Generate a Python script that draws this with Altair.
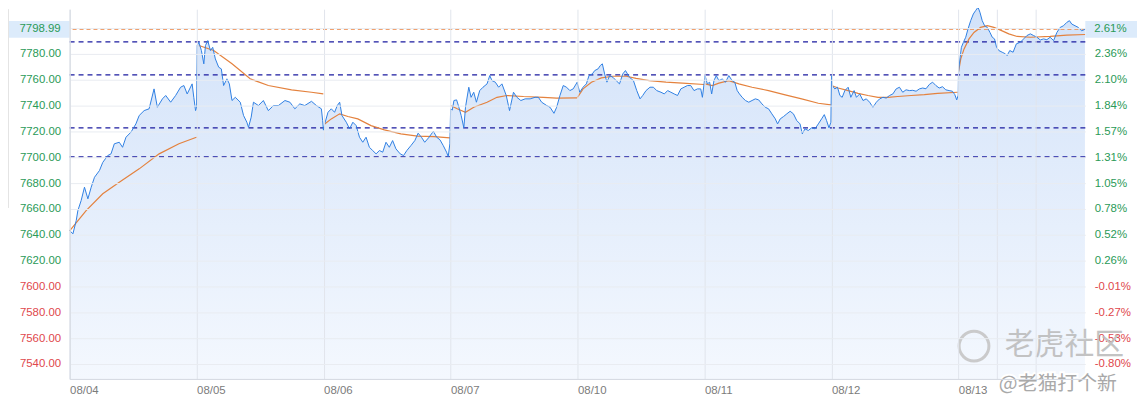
import altair as alt
import pandas as pd

DAYS = ["08/04", "08/05", "08/06", "08/07", "08/10", "08/11", "08/12", "08/13"]
PREV_CLOSE = 7600.45
LAST = 7798.99
LAST_PCT = "2.61%"
LEVELS = [7789.3, 7763.7, 7722.7, 7700.3]
Y_TICKS = [7540, 7560, 7580, 7600, 7620, 7640, 7660, 7680, 7700, 7720, 7740, 7760, 7780, 7800]
RIGHT_LABELS = ["-0.80%", "-0.53%", "-0.27%", "-0.01%", "0.26%", "0.52%", "0.78%", "1.05%",
                "1.31%", "1.57%", "1.84%", "2.10%", "2.36%", "2.63%"]
X_EXTRA = [7.303, 7.609]
Y_MIN, Y_MAX = 7528.4, 7814.6

# price: (fraction of the day, value)
P_0804 = [(0.000, 7643.3), (0.026, 7640.7), (0.052, 7651.0), (0.065, 7658.7), (0.091, 7666.5), (0.117, 7676.8),
          (0.144, 7667.8), (0.170, 7676.8), (0.196, 7684.5), (0.235, 7689.7), (0.261, 7696.0), (0.300, 7701.3),
          (0.326, 7702.6), (0.352, 7710.4), (0.391, 7711.6), (0.417, 7707.7), (0.444, 7715.5), (0.483, 7719.4),
          (0.522, 7725.8), (0.548, 7732.3), (0.587, 7736.1), (0.626, 7737.5), (0.665, 7752.9), (0.691, 7738.7),
          (0.731, 7745.2), (0.757, 7747.8), (0.796, 7742.6), (0.835, 7747.8), (0.874, 7754.2), (0.900, 7755.5),
          (0.926, 7749.0), (0.965, 7756.8), (0.978, 7746.4), (0.992, 7736.1), (0.999, 7738.0)]
P_0805 = [(0.005, 7786.5), (0.018, 7789.0), (0.038, 7782.6), (0.057, 7772.3), (0.070, 7786.5), (0.088, 7790.3),
          (0.109, 7782.6), (0.127, 7785.1), (0.148, 7776.1), (0.174, 7769.7), (0.195, 7768.4), (0.213, 7755.5),
          (0.239, 7760.7), (0.258, 7756.8), (0.279, 7743.9), (0.305, 7746.4), (0.344, 7742.6), (0.370, 7732.3),
          (0.396, 7727.1), (0.409, 7723.2), (0.430, 7731.0), (0.448, 7742.6), (0.487, 7740.0), (0.526, 7743.9),
          (0.565, 7736.1), (0.605, 7740.0), (0.644, 7740.0), (0.696, 7743.9), (0.735, 7742.6), (0.774, 7737.5),
          (0.813, 7741.3), (0.852, 7740.0), (0.905, 7743.3), (0.944, 7740.0), (0.983, 7737.5), (0.993, 7728.4),
          (0.999, 7721.0)]
P_0806 = [(0.009, 7725.8), (0.035, 7734.8), (0.061, 7737.5), (0.087, 7734.8), (0.108, 7740.0), (0.127, 7742.6),
          (0.145, 7732.3), (0.179, 7727.1), (0.205, 7722.0), (0.231, 7727.1), (0.257, 7724.5), (0.283, 7715.5),
          (0.309, 7711.6), (0.335, 7715.5), (0.361, 7707.7), (0.387, 7705.2), (0.414, 7702.6), (0.440, 7705.2),
          (0.466, 7703.9), (0.492, 7711.6), (0.518, 7707.7), (0.544, 7712.9), (0.570, 7706.5), (0.604, 7702.6),
          (0.630, 7701.3), (0.656, 7705.2), (0.688, 7709.0), (0.719, 7712.9), (0.745, 7718.6), (0.771, 7715.5),
          (0.797, 7711.6), (0.831, 7715.5), (0.865, 7720.1), (0.891, 7715.5), (0.917, 7713.5), (0.943, 7709.0),
          (0.969, 7703.9), (0.982, 7700.5), (0.995, 7710.4)]
P_0807 = [(0.001, 7737.5), (0.014, 7736.5), (0.027, 7743.9), (0.048, 7744.4), (0.066, 7738.7), (0.084, 7732.3),
          (0.105, 7722.8), (0.118, 7738.7), (0.144, 7754.2), (0.162, 7746.4), (0.183, 7750.3), (0.204, 7742.6),
          (0.230, 7751.6), (0.256, 7754.2), (0.288, 7756.8), (0.309, 7763.2), (0.327, 7759.3), (0.353, 7758.1),
          (0.379, 7754.2), (0.405, 7756.8), (0.439, 7747.8), (0.465, 7736.1), (0.496, 7750.3), (0.523, 7746.4),
          (0.554, 7743.9), (0.588, 7745.2), (0.627, 7745.2), (0.666, 7746.4), (0.692, 7746.4), (0.718, 7742.6),
          (0.758, 7740.0), (0.784, 7738.7), (0.815, 7734.0), (0.836, 7738.7), (0.862, 7747.8), (0.888, 7755.5),
          (0.914, 7754.2), (0.940, 7751.6), (0.966, 7752.9), (0.998, 7758.1)]
P_0810 = [(0.000, 7756.8), (0.018, 7750.3), (0.044, 7754.2), (0.070, 7756.8), (0.091, 7763.2), (0.117, 7764.5),
          (0.136, 7767.1), (0.162, 7768.4), (0.180, 7771.0), (0.196, 7772.3), (0.214, 7764.5), (0.232, 7758.1),
          (0.253, 7763.2), (0.279, 7761.9), (0.305, 7759.3), (0.331, 7756.8), (0.357, 7764.5), (0.378, 7767.1),
          (0.410, 7761.9), (0.441, 7759.3), (0.467, 7751.6), (0.493, 7745.2), (0.514, 7747.8), (0.540, 7751.6),
          (0.571, 7754.2), (0.598, 7754.2), (0.624, 7751.6), (0.658, 7750.3), (0.684, 7749.0), (0.710, 7751.6),
          (0.736, 7750.3), (0.762, 7749.0), (0.788, 7747.8), (0.814, 7752.9), (0.840, 7754.2), (0.866, 7755.5),
          (0.892, 7755.5), (0.918, 7751.6), (0.945, 7752.9), (0.971, 7752.9), (0.984, 7746.4), (0.997, 7756.8)]
P_0811 = [(0.005, 7763.2), (0.023, 7756.8), (0.041, 7758.1), (0.057, 7749.0), (0.075, 7759.3), (0.093, 7763.2),
          (0.114, 7759.3), (0.140, 7760.6), (0.166, 7758.1), (0.192, 7763.2), (0.218, 7759.3), (0.239, 7758.1),
          (0.258, 7751.6), (0.276, 7749.0), (0.297, 7746.4), (0.323, 7743.9), (0.349, 7742.6), (0.375, 7743.9),
          (0.401, 7745.2), (0.427, 7744.4), (0.453, 7741.3), (0.479, 7738.7), (0.505, 7737.5), (0.531, 7733.6),
          (0.558, 7729.7), (0.576, 7725.8), (0.597, 7729.7), (0.623, 7731.5), (0.649, 7733.6), (0.675, 7735.6),
          (0.701, 7733.6), (0.727, 7728.4), (0.753, 7725.8), (0.771, 7718.1), (0.792, 7722.0), (0.818, 7720.7),
          (0.845, 7722.8), (0.871, 7722.0), (0.897, 7725.8), (0.923, 7729.7), (0.944, 7733.0), (0.962, 7728.4),
          (0.981, 7722.8), (0.996, 7727.1)]
P_0812 = [(0.001, 7763.2), (0.007, 7755.5), (0.027, 7752.9), (0.048, 7754.2), (0.067, 7747.8), (0.085, 7746.4),
          (0.106, 7751.6), (0.132, 7754.2), (0.153, 7746.4), (0.179, 7751.6), (0.197, 7746.4), (0.223, 7749.0),
          (0.249, 7743.9), (0.275, 7745.2), (0.301, 7742.6), (0.327, 7738.7), (0.354, 7742.6), (0.380, 7745.2),
          (0.406, 7746.4), (0.432, 7745.8), (0.458, 7747.8), (0.484, 7749.0), (0.510, 7752.9), (0.536, 7754.2),
          (0.562, 7750.3), (0.588, 7752.2), (0.614, 7751.6), (0.641, 7751.8), (0.667, 7751.1), (0.693, 7752.9),
          (0.719, 7753.6), (0.745, 7753.0), (0.771, 7756.3), (0.797, 7758.1), (0.823, 7755.5), (0.849, 7753.6),
          (0.875, 7754.6), (0.901, 7752.2), (0.927, 7751.6), (0.953, 7751.1), (0.972, 7748.5), (0.987, 7744.4),
          (0.999, 7748.0)]
P_0813 = [(0.001, 7765.8), (0.014, 7777.4), (0.024, 7785.1), (0.040, 7789.0), (0.058, 7792.9), (0.076, 7799.3),
          (0.097, 7805.7), (0.118, 7810.9), (0.136, 7813.5), (0.155, 7816.1), (0.170, 7812.2), (0.188, 7805.7),
          (0.207, 7801.8), (0.228, 7800.5), (0.249, 7796.6), (0.267, 7792.9), (0.285, 7791.6), (0.301, 7785.1),
          (0.319, 7782.6), (0.345, 7781.3), (0.371, 7780.0), (0.384, 7778.7), (0.405, 7782.6), (0.431, 7781.3),
          (0.457, 7787.8), (0.488, 7789.0), (0.514, 7791.6), (0.540, 7794.2), (0.567, 7795.5), (0.593, 7794.2),
          (0.619, 7792.9), (0.645, 7790.8), (0.671, 7791.6), (0.697, 7791.0), (0.723, 7792.9), (0.750, 7790.3),
          (0.776, 7796.6), (0.802, 7800.5), (0.828, 7801.8), (0.854, 7804.4), (0.875, 7805.7), (0.893, 7803.1),
          (0.919, 7801.8), (0.945, 7800.5), (0.971, 7797.9), (0.997, 7799.0)]

# average price line, per day
A_0804 = [(0.000, 7643.0), (0.130, 7658.7), (0.261, 7671.7), (0.391, 7680.7), (0.548, 7691.0), (0.705, 7702.6),
          (0.861, 7710.4), (0.999, 7715.5)]
A_0805 = [(0.018, 7786.5), (0.135, 7782.6), (0.279, 7772.3), (0.422, 7760.7), (0.565, 7755.5), (0.748, 7752.2),
          (0.905, 7750.3), (0.998, 7749.0)]
A_0806 = [(0.009, 7725.8), (0.061, 7729.7), (0.127, 7733.6), (0.192, 7731.5), (0.270, 7729.7), (0.374, 7724.5),
          (0.479, 7721.2), (0.609, 7718.1), (0.740, 7716.3), (0.870, 7716.0), (0.995, 7715.0)]
A_0807 = [(0.001, 7740.0), (0.053, 7737.5), (0.118, 7734.8), (0.183, 7738.7), (0.288, 7742.6), (0.366, 7746.4),
          (0.444, 7747.8), (0.575, 7747.0), (0.731, 7746.4), (0.836, 7745.7), (0.998, 7746.0)]
A_0810 = [(0.000, 7746.4), (0.044, 7752.9), (0.110, 7758.1), (0.188, 7761.4), (0.279, 7762.7), (0.384, 7762.7),
          (0.462, 7761.1), (0.566, 7759.3), (0.697, 7758.1), (0.827, 7757.4), (0.997, 7756.3)]
A_0811 = [(0.005, 7756.8), (0.062, 7755.5), (0.114, 7757.4), (0.192, 7759.3), (0.271, 7756.8), (0.375, 7754.2),
          (0.505, 7751.6), (0.636, 7748.3), (0.766, 7745.2), (0.897, 7741.8), (0.996, 7740.6)]
A_0812 = [(0.001, 7755.5), (0.053, 7753.6), (0.132, 7751.6), (0.210, 7749.5), (0.288, 7747.8), (0.367, 7746.4),
          (0.445, 7746.4), (0.523, 7747.0), (0.628, 7747.8), (0.732, 7748.5), (0.836, 7749.5), (0.993, 7750.3)]
A_0813 = [(0.001, 7765.8), (0.019, 7776.1), (0.045, 7783.9), (0.084, 7791.6), (0.123, 7796.6), (0.175, 7800.5),
          (0.228, 7801.8), (0.280, 7800.5), (0.332, 7798.4), (0.397, 7795.5), (0.463, 7793.5), (0.567, 7792.9),
          (0.723, 7793.5), (0.854, 7794.5), (0.999, 7795.0)]

PRICES = [P_0804, P_0805, P_0806, P_0807, P_0810, P_0811, P_0812, P_0813]
AVGS = [A_0804, A_0805, A_0806, A_0807, A_0810, A_0811, A_0812, A_0813]

price_df = pd.DataFrame([{"t": d + f, "v": v} for d, pts in enumerate(PRICES) for f, v in pts])
avg_df = pd.DataFrame([{"t": d + f, "v": v, "day": DAYS[d]} for d, pts in enumerate(AVGS) for f, v in pts])
levels_df = pd.DataFrame({"v": LEVELS})
last_df = pd.DataFrame({"v": [LAST], "txt": [f"{LAST:.2f}"], "pct": [LAST_PCT]})
ticks_df = pd.DataFrame({"v": Y_TICKS})

GREEN = "#2a9a57"
RED = "#e0474c"
BLUE = "#2f80e3"
ORANGE = "#e4823e"
FONT = "Liberation Sans"

xs = alt.Scale(domain=[0, len(DAYS)], nice=False)
ys = alt.Scale(domain=[Y_MIN, Y_MAX], nice=False, zero=False)

day_arr = "[" + ",".join(f"'{d}'" for d in DAYS) + "]"
x_axis = alt.Axis(values=list(range(len(DAYS))) + X_EXTRA, title=None, grid=True, gridColor="#e1e5ec",
                  domainColor="#d3d8e0", tickSize=0, labelColor="#7b7b7b", labelFont=FONT, labelFontSize=11.5,
                  labelAlign="left", labelPadding=6, labelOverlap=False, labelFlush=False, zindex=1,
                  labelExpr=f"datum.value == round(datum.value) ? {day_arr}[round(datum.value)] : ''")
label_color = {"condition": {"test": f"datum.value < {PREV_CLOSE}", "value": RED}, "value": GREEN}
left_axis = alt.Axis(orient="left", values=Y_TICKS, title=None, grid=True, gridColor="#e9ecf1",
                     domainColor="#d3d8e0", tickSize=0, labelPadding=9, labelFont=FONT, labelFontSize=11.5,
                     labelColor=label_color, labelOverlap=False, zindex=1,
                     labelExpr="datum.value == 7800 ? '' : format(datum.value, '.2f')")
pct_arr = "[" + ",".join(f"'{p}'" for p in RIGHT_LABELS) + "]"
right_axis = alt.Axis(orient="right", values=Y_TICKS, title=None, grid=False, domain=False, ticks=False,
                      labelPadding=9, labelFont=FONT, labelFontSize=11.5, labelColor=label_color,
                      labelOverlap=False,
                      labelExpr=f"datum.value == 7800 ? '' : {pct_arr}[round((datum.value - {Y_TICKS[0]}) / 20)]")

grad = alt.Gradient(gradient="linear", x1=1, x2=1, y1=0, y2=1,
                    stops=[alt.GradientStop(color="#d2e2f9", offset=0),
                           alt.GradientStop(color="#f4f8fe", offset=1)])

left_layer = alt.Chart(ticks_df).mark_point(opacity=0).encode(y=alt.Y("v:Q", scale=ys, axis=left_axis))
area = alt.Chart(price_df).mark_area(color=grad).encode(
    x=alt.X("t:Q", scale=xs, axis=x_axis),
    y=alt.Y("v:Q", scale=ys, axis=None),
    y2=alt.datum(Y_MIN),
)
blue = alt.Chart(price_df).mark_line(color=BLUE, strokeWidth=1).encode(
    x=alt.X("t:Q", scale=xs), y=alt.Y("v:Q", scale=ys, axis=None))
avg = alt.Chart(avg_df).mark_line(color=ORANGE, strokeWidth=1.2).encode(
    x=alt.X("t:Q", scale=xs), y=alt.Y("v:Q", scale=ys, axis=None), detail="day:N")
level_rules = alt.Chart(levels_df).mark_rule(color="#1b1ba0", strokeWidth=1.3, strokeDash=[5, 4]).encode(
    y=alt.Y("v:Q", scale=ys, axis=None))
last_rule = alt.Chart(last_df).mark_rule(color="#ee8a4c", strokeWidth=1, strokeDash=[4, 3]).encode(
    y=alt.Y("v:Q", scale=ys, axis=None))
left_box = alt.Chart(last_df).mark_tick(orient="horizontal", size=62, thickness=17, color="#dcebfb",
                                        opacity=1, clip=False).encode(
    x=alt.value(-31), y=alt.Y("v:Q", scale=ys, axis=None))
right_box = alt.Chart(last_df).mark_tick(orient="horizontal", size=52, thickness=17, color="#dcebfb",
                                         opacity=1, clip=False).encode(
    x=alt.value(1048), y=alt.Y("v:Q", scale=ys, axis=None))
left_txt = alt.Chart(last_df).mark_text(align="right", baseline="middle", font=FONT, fontSize=11.5,
                                        color=GREEN).encode(
    x=alt.value(-9), y=alt.Y("v:Q", scale=ys, axis=None), text="txt:N")
right_txt = alt.Chart(last_df).mark_text(align="left", baseline="middle", font=FONT, fontSize=11.5,
                                         color=GREEN).encode(
    x=alt.value(1031), y=alt.Y("v:Q", scale=ys, axis=None), text="pct:N")
edge = alt.Chart(last_df).mark_rule(color="#e4e4e4", strokeWidth=1).encode(
    x=alt.value(-61.5), y=alt.value(0), y2=alt.value(200))

wm_logo = alt.Chart(last_df).mark_point(shape="circle", size=900, filled=False, color="#c6c6c6",
                                        strokeWidth=3, opacity=0.9).encode(x=alt.value(910), y=alt.value(339))
wm_big = alt.Chart(last_df).mark_text(text="老虎社区", align="left", baseline="middle",
                                      font="Noto Sans CJK SC", fontSize=30,
                                      color="#bdbdbd", opacity=0.9).encode(x=alt.value(941), y=alt.value(338))
wm_small_halo = alt.Chart(last_df).mark_text(text="@老猫打个新", align="left", baseline="middle",
                                             font="Noto Sans CJK SC", fontSize=20, color="white",
                                             stroke="white", strokeWidth=4).encode(
    x=alt.value(935), y=alt.value(377))
wm_small = alt.Chart(last_df).mark_text(text="@老猫打个新", align="left", baseline="middle",
                                        font="Noto Sans CJK SC", fontSize=20, color="#a9a9a9").encode(
    x=alt.value(935), y=alt.value(377))

right_layer = alt.Chart(ticks_df).mark_point(opacity=0).encode(y=alt.Y("v:Q", scale=ys, axis=right_axis))

chart = alt.layer(left_layer, area, level_rules, last_rule, avg, blue, left_box, right_box, left_txt, right_txt,
                  edge, wm_logo, wm_big, wm_small_halo, wm_small, right_layer).resolve_axis(
    y="independent").properties(
    width=1022, height=372,
    autosize=alt.AutoSizeParams(type="none"),
    padding={"left": 62, "right": 52, "top": 0, "bottom": 18},
    background="white",
).configure_view(stroke=None)

chart.save("out.html", embed_options={"renderer": "svg", "actions": False})
